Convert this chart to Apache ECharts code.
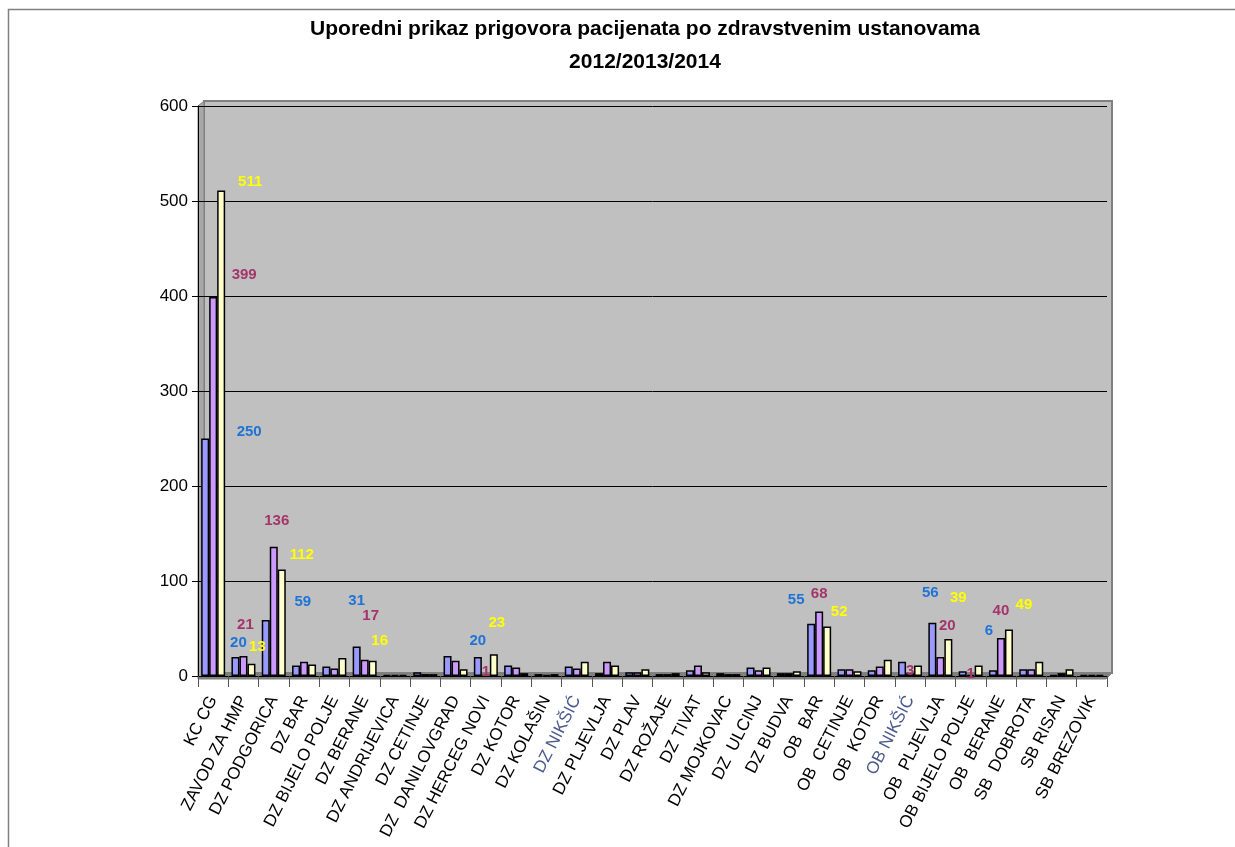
<!DOCTYPE html>
<html>
<head>
<meta charset="utf-8">
<script src="https://cdn.jsdelivr.net/npm/echarts@6/dist/echarts.min.js"></script>
<style>
html,body{margin:0;padding:0;background:#fff;}
#chart{width:1235px;height:847px;}
</style>
</head>
<body>
<div id="chart"></div>
<script>
// ---- data ----
const categories = [
  "KC CG","ZAVOD ZA HMP","DZ PODGORICA","DZ BAR","DZ BIJELO POLJE","DZ BERANE",
  "DZ ANDRIJEVICA","DZ CETINJE","DZ  DANILOVGRAD","DZ HERCEG NOVI","DZ KOTOR","DZ KOLAŠIN",
  "DZ NIKŠIĆ","DZ PLJEVLJA","DZ PLAV","DZ ROŽAJE","DZ TIVAT","DZ MOJKOVAC",
  "DZ  ULCINJ","DZ BUDVA","OB  BAR","OB  CETINJE","OB  KOTOR","OB NIKŠIĆ",
  "OB  PLJEVLJA","OB BIJELO POLJE","OB  BERANE","SB  DOBROTA","SB RISAN","SB BREZOVIK"
];
const values2012 = [250,20,59,11,10,31,1,4,21,20,11,2,10,3,4,2,6,3,9,3,55,7,6,15,56,5,6,7,1,1];
const values2013 = [399,21,136,15,8,17,1,2,16,1,9,1,8,15,4,2,11,2,6,3,68,7,10,3,20,1,40,7,3,1];
const values2014 = [511,13,112,12,19,16,1,2,7,23,3,2,15,11,7,3,4,2,9,5,52,5,17,11,39,11,49,15,7,1];
const seriesNames = ["2012","2013","2014"];
const yTicks = [0,100,200,300,400,500,600];
const titleLines = ["Uporedni prikaz prigovora pacijenata po zdravstvenim ustanovama","2012/2013/2014"];

// which values carry a visible label (series index -> category index -> label offset [dx,dy])
const labelOffsets = [
  {0:[44,6],1:[3,-2],2:[37,-6],5:[0,-33],9:[0,-4],20:[-15,-11],24:[-2,-17],26:[-4,-27]},
  {0:[31,-10],1:[2,-19],2:[3,-13],5:[6,-31],9:[0,10],20:[0,-5],23:[0,10],24:[7,-19],25:[0,12],26:[0,-15]},
  {0:[29,4],1:[6,-4],2:[20,-2],5:[7,-7],9:[3,-19],20:[12,-2],24:[10,-29],26:[15,-12]}
];
const barColors = ["#9999ff","#cc99ff","#ffffcc"];
const labelColors = ["#1f73d6","#a3356b","#ffff00"];
const specialLabelColor = {"DZ NIKŠIĆ":"#4a5a8c","OB NIKŠIĆ":"#4a5a8c"};

const allValues = [values2012, values2013, values2014];

const chart = echarts.init(document.getElementById('chart'));

const gl = 198, gt = 106, gr = 1235 - 1107, gb = 847 - 676;

const series = allValues.map((vals, si) => ({
  name: seriesNames[si],
  type: 'bar',
  barWidth: 8,
  barGap: '0%',
  barCategoryGap: '20%',
  itemStyle: {color: barColors[si], borderColor: '#000', borderWidth: 1.5},
  label: {show: false, position: 'top', color: labelColors[si], fontFamily: 'Liberation Sans, Arial', fontWeight: 'bold', fontSize: 15},
  data: vals.map((v, ci) => {
    const off = labelOffsets[si][ci];
    if (off) return {value: v, label: {show: true, offset: off}};
    return v;
  }),
  z: 3
}));

chart.setOption({
  animation: false,
  backgroundColor: '#fff',
  title: {
    text: titleLines.join('\n'),
    left: 640, top: 8, textAlign: 'center',
    textStyle: {fontFamily: 'Liberation Sans, Arial', fontWeight: 'bold', fontSize: 21, lineHeight: 33, color: '#000'}
  },
  graphic: [
    {type: 'rect', shape: {x: 8.5, y: 9.5, width: 1400, height: 1000}, style: {fill: 'none', stroke: '#808080', lineWidth: 1.5}, z: 0},
    {type: 'polygon', shape: {points: [[204,101],[1112,101],[1112,673],[204,673]]}, style: {fill: '#c0c0c0', stroke: '#808080', lineWidth: 2}, z: 0},
    {type: 'polygon', shape: {points: [[198,106],[204,101],[204,673],[198,679]]}, style: {fill: '#a8a8a8', stroke: '#808080', lineWidth: 1}, z: 0},
    {type: 'polygon', shape: {points: [[198,679],[204,673],[1112,673],[1106,679]]}, style: {fill: '#808080', stroke: '#808080', lineWidth: 1}, z: 0}
  ],
  grid: {left: gl, top: gt, right: gr, bottom: gb, containLabel: false},
  xAxis: {
    type: 'category',
    data: categories.map(c => specialLabelColor[c] ? {value: c, textStyle: {color: specialLabelColor[c]}} : c),
    axisLine: {show: true, lineStyle: {color: '#000', width: 1}},
    axisTick: {show: true, length: 11, lineStyle: {color: '#555'}, alignWithLabel: false},
    axisLabel: {rotate: 63, interval: 0, margin: 21, padding: [12,0,0,0], color: '#000', fontFamily: 'Liberation Sans, Arial', fontSize: 17}
  },
  yAxis: {
    type: 'value',
    min: yTicks[0], max: yTicks[yTicks.length - 1], interval: 100,
    axisLine: {show: true, lineStyle: {color: '#000', width: 1}},
    axisTick: {show: true, length: 6, lineStyle: {color: '#000'}},
    axisLabel: {color: '#000', fontFamily: 'Liberation Sans, Arial', fontSize: 17, margin: 10},
    splitLine: {show: true, lineStyle: {color: '#000', width: 1}}
  },
  series: series
});
</script>
</body>
</html>
